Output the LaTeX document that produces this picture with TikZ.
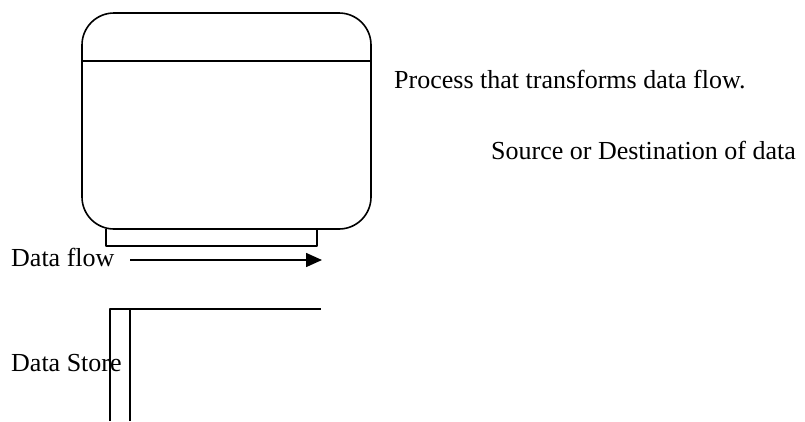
\documentclass[tikz,border=0pt]{standalone}
\usepackage{fontspec}
\setmainfont{Liberation Serif}
\usetikzlibrary{arrows.meta,positioning,calc}
\tikzset{
  lbl/.style={anchor=base west,inner sep=0pt,font=\fontsize{26}{30}\selectfont},
  edge/.style={line width=1.6pt}
}
\begin{document}
\begin{tikzpicture}[x=1pt,y=-1pt,line join=round]
\useasboundingbox (0,0) rectangle (805,421);
% process box
\coordinate (P1) at (82,13);
\coordinate (P2) at (371,229);
\draw[edge,rounded corners=32pt] (P1) rectangle (P2);
\draw[edge] (82,61)--(371,61);
% source / destination box under it
\coordinate (S1) at (106,229);
\coordinate (S2) at (317,246);
\draw[edge] (S1)--(106,246)--(S2)--(317,229);
% data flow
\node[lbl] (flow) at (11,266) {Data flow};
\coordinate (F1) at (130,260);
\coordinate (F2) at (322,260);
\draw[edge,-{Triangle[length=16pt,width=14pt]}] (F1)--(F2);
% data store
\node[lbl] (store) at (11,371) {Data Store};
\coordinate (D1) at (110,309);
\coordinate (D2) at (321,309);
\draw[edge] (110,421)--(D1)--(D2);
\draw[edge] (130,421)--(130,309);
% legends
\node[lbl] (proc) at (394,88) {Process that transforms data flow.};
\node[lbl] (src) at (491,159) {Source or Destination of data};
\end{tikzpicture}
\end{document}
